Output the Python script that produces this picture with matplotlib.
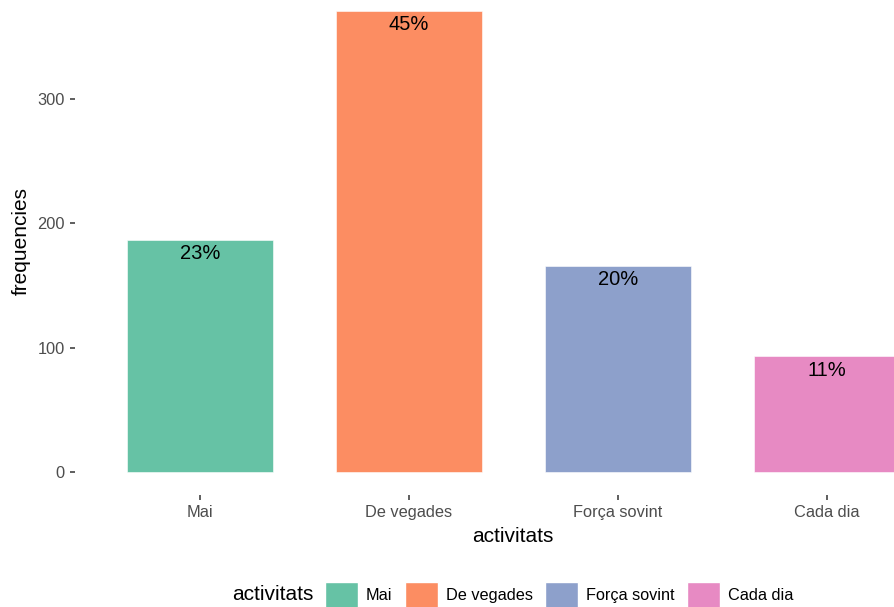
import matplotlib.pyplot as plt
from matplotlib.patches import Patch

# dades
activitats = ['Mai', 'De vegades', 'Força sovint', 'Cada dia']
frequencies = [187, 371, 166, 93]
colors = ['#66C2A5', '#FC8D62', '#8DA0CB', '#E78AC3']

total = sum(frequencies)
percents = ['%d%%' % round(100 * f / total) for f in frequencies]

plt.rcParams['font.family'] = ['Liberation Sans', 'DejaVu Sans']

W, H = 895, 607
fig = plt.figure(figsize=(W / 100, H / 100), dpi=100)

# la imatge original esta retallada: l'area del grafic surt per dalt i per la dreta
left, right, bottom, top = 74.6, 952, 495, -12
ax = fig.add_axes([left / W, (H - bottom) / H, (right - left) / W, (bottom - top) / H])

x = range(1, len(activitats) + 1)
ax.bar(x, frequencies, width=0.7, color=colors, edgecolor='white', linewidth=0.4)

for xi, f, p in zip(x, frequencies, percents):
    ax.annotate(p, (xi, f), xytext=(0, -3), textcoords='offset points',
                ha='center', va='top', fontsize=14.5, color='black')

ymax = max(frequencies)
ax.set_xlim(0.4, 4.6)
ax.set_ylim(-0.05 * ymax, 1.05 * ymax)
ax.set_xticks(list(x))
ax.set_xticklabels(activitats)
ax.set_yticks([0, 100, 200, 300])

for s in ax.spines.values():
    s.set_visible(False)
ax.tick_params(axis='both', colors='#333333', labelcolor='#4D4D4D',
               labelsize=11.8, length=3.5, width=1.1, pad=3.5)

ax.set_xlabel('activitats', fontsize=15, labelpad=5)
ax.set_ylabel('frequencies', fontsize=15, labelpad=5)

# llegenda a baix, amb el titol a l'esquerra
handles = [Patch(facecolor=c, edgecolor='white') for c in colors]
fig.legend(handles, activitats, loc='center left',
           bbox_to_anchor=(325 / W, (H - 595) / H), ncol=4, frameon=False,
           fontsize=11.7, handlelength=2.03, handleheight=2.1,
           handletextpad=0.5, columnspacing=0.75, borderpad=0, borderaxespad=0)
fig.text(232 / W, (H - 595) / H, 'activitats', fontsize=15, va='center', ha='left')

fig.savefig('out.png', dpi=100)
